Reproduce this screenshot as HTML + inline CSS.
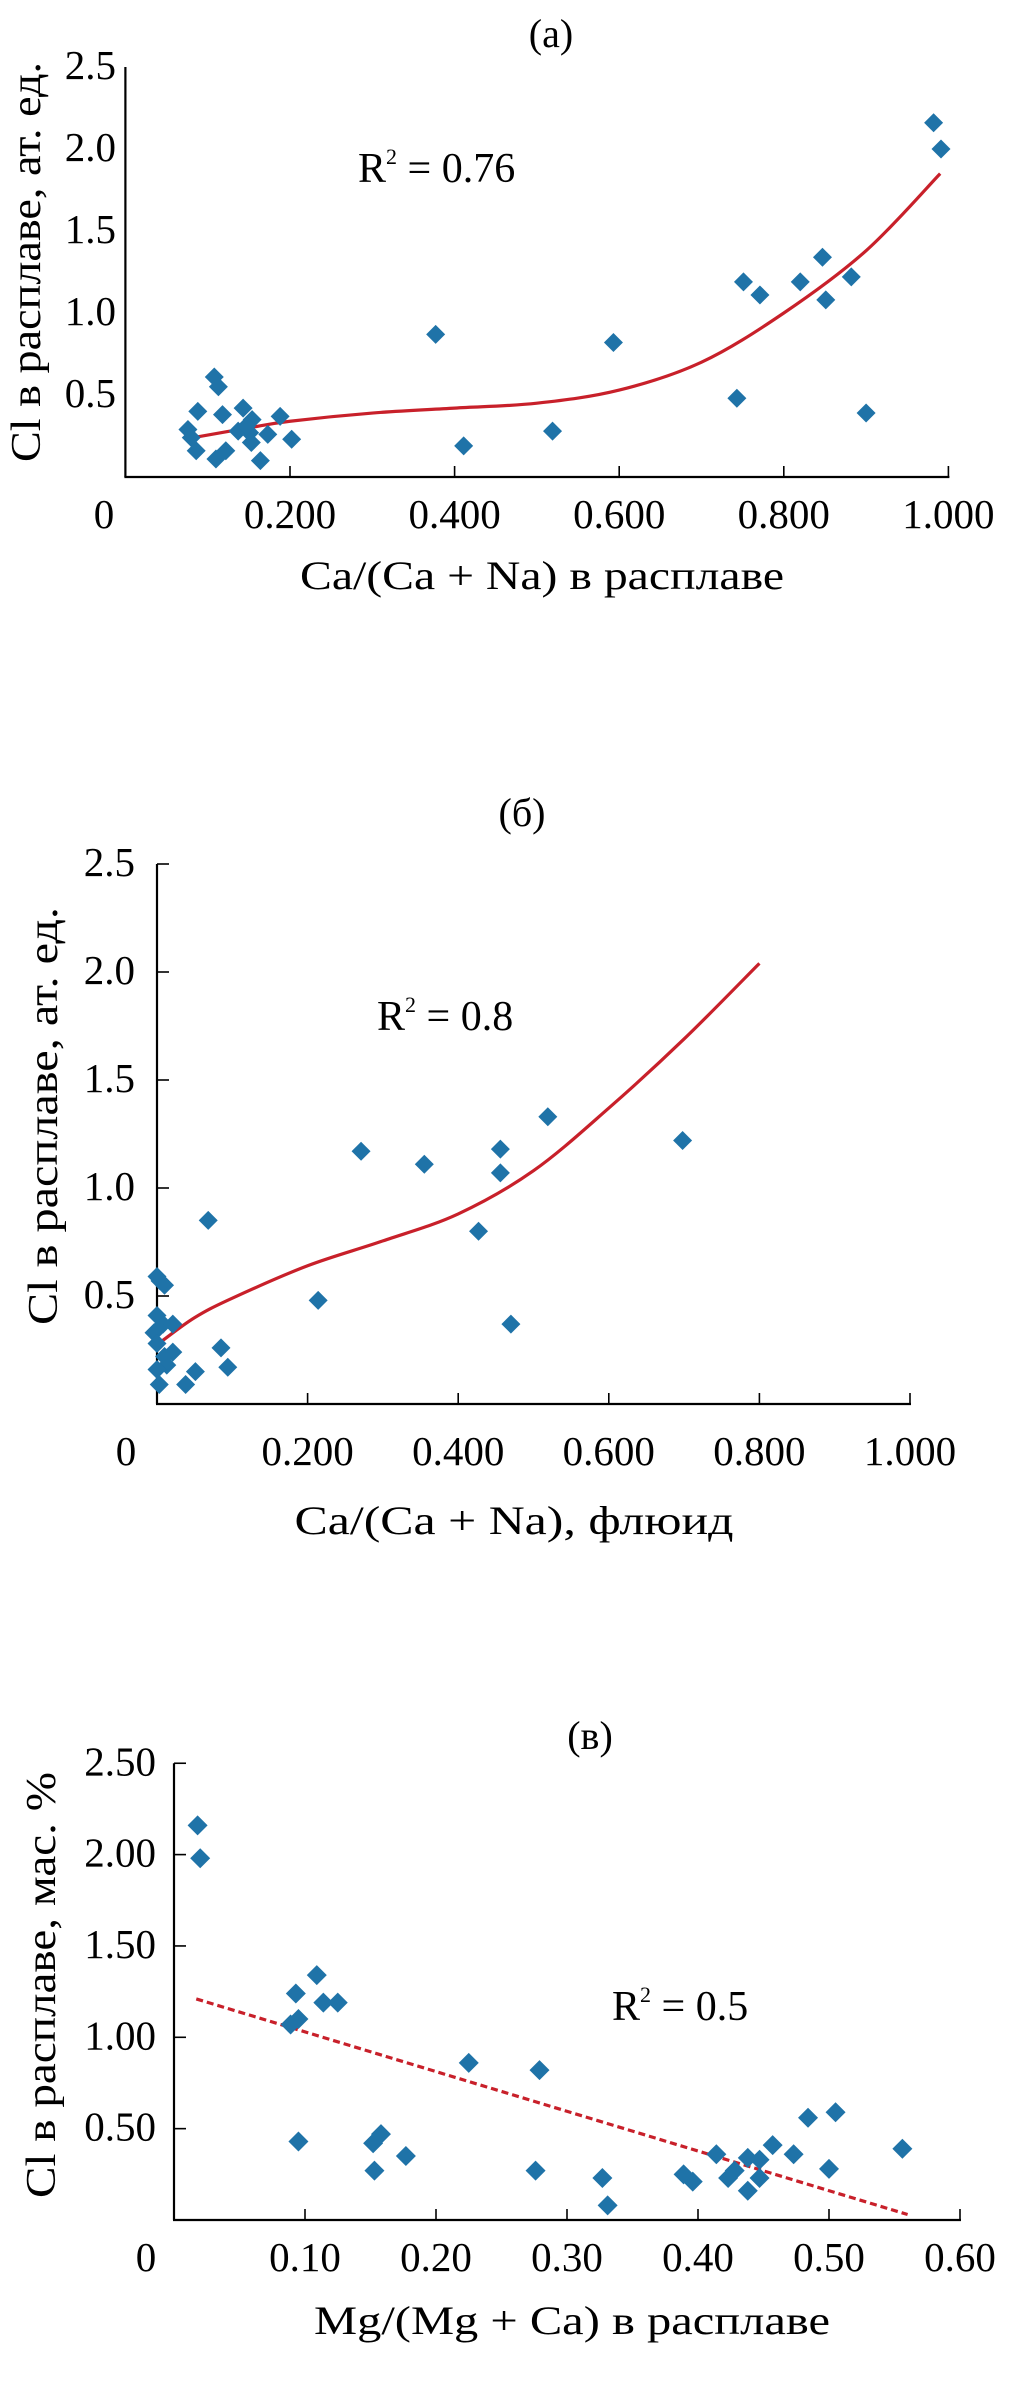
<!DOCTYPE html>
<html><head><meta charset="utf-8">
<style>
html,body{margin:0;padding:0;background:#fff;}
svg{display:block;}
text{font-family:"Liberation Serif","DejaVu Serif",serif;fill:#000;}
</style></head>
<body>
<svg id="fig" width="1010" height="2389" viewBox="0 0 1010 2389" xmlns="http://www.w3.org/2000/svg"></svg>
<script>
// ---- Chart (a) data ----
const aX = [0.982,0.991,0.847,0.751,0.771,0.820,0.882,0.851,0.743,0.900,0.593,0.377,0.411,0.519,0.108,0.113,0.088,0.118,0.143,0.154,0.188,0.076,0.080,0.137,0.151,0.153,0.173,0.202,0.086,0.122,0.110,0.164,0.147];
const aY = [2.16,2.00,1.34,1.19,1.11,1.19,1.22,1.08,0.48,0.39,0.82,0.87,0.19,0.28,0.61,0.55,0.40,0.38,0.42,0.35,0.37,0.29,0.24,0.28,0.27,0.21,0.26,0.23,0.16,0.16,0.11,0.10,0.31];
const aCurveX = [0.082,0.15,0.2,0.3,0.4,0.5,0.6,0.7,0.8,0.9,0.99];
const aCurveY = [0.24,0.30,0.34,0.39,0.42,0.45,0.53,0.70,1.00,1.38,1.85];
const aXTicks = ["0.200","0.400","0.600","0.800","1.000"];
const aXTickVals = [0.2,0.4,0.6,0.8,1.0];
const aYTicks = ["0.5","1.0","1.5","2.0","2.5"];
const aYTickVals = [0.5,1.0,1.5,2.0,2.5];

// ---- Chart (б) data ----
const bX = [0.519,0.698,0.271,0.355,0.456,0.456,0.427,0.068,0.214,0.470,0.0,0.004,0.010,0.0,-0.004,0.0,0.008,0.021,0.085,0.021,0.010,0.013,0.0,0.051,0.094,0.038,0.003];
const bY = [1.33,1.22,1.17,1.11,1.18,1.07,0.80,0.85,0.48,0.37,0.59,0.57,0.55,0.41,0.33,0.28,0.37,0.37,0.26,0.24,0.22,0.18,0.16,0.15,0.17,0.09,0.09];
const bCurveX = [0.006,0.05,0.1,0.2,0.3,0.4,0.5,0.6,0.7,0.8];
const bCurveY = [0.29,0.40,0.49,0.64,0.755,0.88,1.08,1.37,1.69,2.04];
const bXTicks = ["0.200","0.400","0.600","0.800","1.000"];
const bXTickVals = [0.2,0.4,0.6,0.8,1.0];
const bYTicks = ["0.5","1.0","1.5","2.0","2.5"];
const bYTickVals = [0.5,1.0,1.5,2.0,2.5];

// ---- Chart (в) data ----
const cX = [0.018,0.020,0.109,0.093,0.114,0.125,0.089,0.095,0.225,0.279,0.095,0.152,0.158,0.177,0.153,0.276,0.327,0.331,0.389,0.396,0.414,0.423,0.428,0.438,0.438,0.447,0.447,0.457,0.473,0.484,0.500,0.505,0.556];
const cY = [2.16,1.98,1.34,1.24,1.19,1.19,1.07,1.10,0.86,0.82,0.43,0.42,0.47,0.35,0.27,0.27,0.23,0.08,0.25,0.21,0.36,0.23,0.27,0.34,0.16,0.33,0.23,0.41,0.36,0.56,0.28,0.59,0.39];
const cTrendX = [0.017,0.56];
const cTrendY = [1.21,0.03];
const cXTicks = ["0.10","0.20","0.30","0.40","0.50","0.60"];
const cXTickVals = [0.1,0.2,0.3,0.4,0.5,0.6];
const cYTicks = ["0.50","1.00","1.50","2.00","2.50"];
const cYTickVals = [0.5,1.0,1.5,2.0,2.5];

const NS = "http://www.w3.org/2000/svg";
const svg = document.getElementById("fig");
function mk(tag, attrs, parent){
  const e = document.createElementNS(NS, tag);
  for (const k in attrs) e.setAttribute(k, attrs[k]);
  (parent||svg).appendChild(e);
  return e;
}
function txt(s, attrs, parent){ const t = mk("text", attrs, parent); t.textContent = s; return t; }

function smoothPath(pts){
  let d = "M" + pts[0][0] + "," + pts[0][1];
  for (let i=0;i<pts.length-1;i++){
    const p0 = pts[i-1]||pts[i], p1 = pts[i], p2 = pts[i+1], p3 = pts[i+2]||p2;
    const c1 = [p1[0]+(p2[0]-p0[0])/6, p1[1]+(p2[1]-p0[1])/6];
    const c2 = [p2[0]-(p3[0]-p1[0])/6, p2[1]-(p3[1]-p1[1])/6];
    d += " C"+c1[0]+","+c1[1]+" "+c2[0]+","+c2[1]+" "+p2[0]+","+p2[1];
  }
  return d;
}

function chart(cfg){
  const g = mk("g", {});
  
  
  const sx = v => cfg.x0 + v*cfg.xu;
  const sy = v => cfg.y0 - v*cfg.yu;
  const t = txt(cfg.title, {x:cfg.titleX, y:cfg.titleY, "font-size":40, "text-anchor":"middle"}, g);
  
  
  // axes
  const ya = mk("line",{x1:cfg.x0,y1:sy(2.5),x2:cfg.x0,y2:cfg.y0,stroke:"#000","stroke-width":2.2},g);
  
  
  const xa = mk("line",{x1:cfg.x0-1,y1:cfg.y0,x2:sx(cfg.xMax)+1,y2:cfg.y0,stroke:"#000","stroke-width":2.2},g);
  
  
  cfg.xTickVals.forEach((v,i)=>{
    const tk = mk("line",{x1:sx(v),y1:cfg.y0,x2:sx(v),y2:cfg.y0-11,stroke:"#000","stroke-width":1.6},g);
    
    
    const tl = txt(cfg.xTicks[i],{x:sx(v),y:cfg.tickBase,"font-size":41,"text-anchor":"middle"},g);
    
    
  });
  const zl = txt("0",{x:cfg.zeroX,y:cfg.tickBase,"font-size":41,"text-anchor":"middle"},g);
  
  
  cfg.yTickVals.forEach((v,i)=>{
    if (cfg.yTickMarks){
      const tk = mk("line",{x1:cfg.x0,y1:sy(v),x2:cfg.x0+12,y2:sy(v),stroke:"#000","stroke-width":1.6},g);
      
      
    }
    const tl = txt(cfg.yTicks[i],{x:cfg.yLabRight,y:sy(v)+12,"font-size":41,"text-anchor":"end"},g);
    
    
  });
  const xt = txt(cfg.xTitle,{x:cfg.xTitleX-cfg.xTitleLen/2,y:cfg.xTitleY,"font-size":40,textLength:cfg.xTitleLen,lengthAdjust:"spacingAndGlyphs"},g);
  
  
  const yt = txt(cfg.yTitle,{x:-(cfg.yTitleY+cfg.yTitleLen/2),y:cfg.yTitleX,transform:"rotate(-90)","font-size":42,textLength:cfg.yTitleLen,lengthAdjust:"spacingAndGlyphs"},g);
  
  
  // trend
  if (cfg.curveX){
    const pts = cfg.curveX.map((v,i)=>[sx(v), sy(cfg.curveY[i])]);
    const p = mk("path",{d:smoothPath(pts),fill:"none",stroke:"#c8202a","stroke-width":3.2},g);
    
    
  }
  if (cfg.trendX){
    const l = mk("line",{x1:sx(cfg.trendX[0]),y1:sy(cfg.trendY[0]),x2:sx(cfg.trendX[1]),y2:sy(cfg.trendY[1]),stroke:"#c8202a","stroke-width":3.2,"stroke-dasharray":"7,4"},g);
    
    
  }
  // points
  const h = cfg.mh;
  cfg.px.forEach((v,i)=>{
    const cx = sx(v), cy = sy(cfg.py[i]);
    const d = mk("polygon",{points:`${cx},${cy-h} ${cx+h},${cy} ${cx},${cy+h} ${cx-h},${cy}`,fill:"#1f73a8"},g);
    
    
  });
  // R2
  const r = txt("",{x:cfg.rX,y:cfg.rY,"font-size":42},g);
  
  
  r.appendChild(document.createTextNode("R"));
  const sup = mk("tspan",{dy:-18,"font-size":22},r); sup.textContent="2";
  const rest = mk("tspan",{dy:18},r); rest.textContent=" = "+cfg.rVal;
}

chart({name:"chart-a", title:"(а)", titleX:551, titleY:47,
  x0:125.4, xu:823, y0:477, yu:164, xMax:1.0,
  xTicks:aXTicks, xTickVals:aXTickVals, yTicks:aYTicks, yTickVals:aYTickVals, yTickMarks:false,
  tickBase:528, zeroX:104, yLabRight:116,
  xTitle:"Ca/(Ca + Na) в расплаве", xTitleX:542, xTitleY:589, xTitleLen:484,
  yTitle:"Cl в расплаве, ат. ед.", yTitleX:40, yTitleY:262, yTitleLen:400,
  curveX:aCurveX, curveY:aCurveY, px:aX, py:aY, mh:9.5,
  rX:358, rY:182, rVal:"0.76"});

chart({name:"chart-b", title:"(б)", titleX:522, titleY:826,
  x0:157, xu:753, y0:1404, yu:216, xMax:1.0,
  xTicks:bXTicks, xTickVals:bXTickVals, yTicks:bYTicks, yTickVals:bYTickVals, yTickMarks:true,
  tickBase:1465, zeroX:126, yLabRight:135,
  xTitle:"Ca/(Ca + Na), флюид", xTitleX:514, xTitleY:1534, xTitleLen:439,
  yTitle:"Cl в расплаве, ат. ед.", yTitleX:57, yTitleY:1116, yTitleLen:418,
  curveX:bCurveX, curveY:bCurveY, px:bX, py:bY, mh:9.5,
  rX:377, rY:1030, rVal:"0.8"});

chart({name:"chart-c", title:"(в)", titleX:590, titleY:1749,
  x0:174, xu:1310, y0:2220, yu:182.7, xMax:0.6,
  xTicks:cXTicks, xTickVals:cXTickVals, yTicks:cYTicks, yTickVals:cYTickVals, yTickMarks:true,
  tickBase:2271, zeroX:146, yLabRight:156,
  xTitle:"Mg/(Mg + Ca) в расплаве", xTitleX:572, xTitleY:2334, xTitleLen:516,
  yTitle:"Cl в расплаве, мас. %", yTitleX:55, yTitleY:1985, yTitleLen:426,
  trendX:cTrendX, trendY:cTrendY, px:cX, py:cY, mh:10,
  rX:612, rY:2020, rVal:"0.5"});
</script>
</body></html>
